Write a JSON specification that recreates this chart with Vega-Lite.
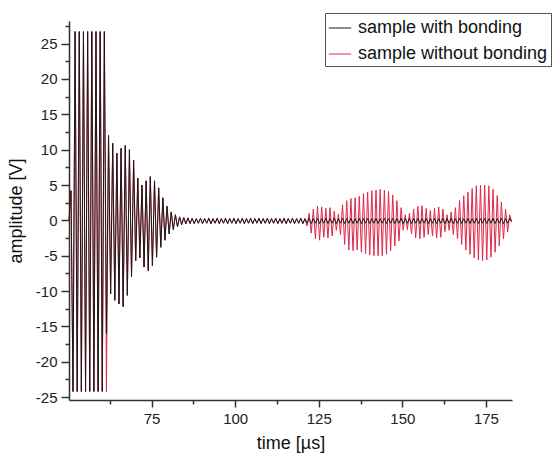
{
  "$schema": "https://vega.github.io/schema/vega-lite/v6.json",
  "width": 443,
  "height": 379,
  "autosize": {"type": "none"},
  "padding": {"left": 69, "top": 21, "right": 44, "bottom": 59},
  "background": "white",
  "config": {"view": {"stroke": null}, "font": "Liberation Sans"},
  "data": {"values": [
    {"t":50.3,"b":0,"r":0},{"t":50.9,"b":4.2,"r":4.2},
    {"t":51.5,"b":-24.2,"r":-24.2},{"t":52.125,"b":26.7,"r":26.7},{"t":52.75,"b":-24.2,"r":-24.2},{"t":53.375,"b":26.7,"r":26.7},
    {"t":54,"b":-24.2,"r":-24.2},{"t":54.625,"b":26.7,"r":26.7},{"t":55.25,"b":-24.2,"r":-24.2},{"t":55.875,"b":26.7,"r":26.7},
    {"t":56.5,"b":-24.2,"r":-24.2},{"t":57.125,"b":26.7,"r":26.7},{"t":57.75,"b":-24.2,"r":-24.2},{"t":58.375,"b":26.7,"r":26.7},
    {"t":59,"b":-24.2,"r":-24.2},{"t":59.625,"b":26.7,"r":26.7},{"t":60.25,"b":-24.2,"r":-24.2},{"t":60.875,"b":26.7,"r":26.7},
    {"t":61.5,"b":-16,"r":-24.2},{"t":62.125,"b":12,"r":12},{"t":62.75,"b":-10.4,"r":-10.4},{"t":63.375,"b":10.9,"r":10.9},
    {"t":64,"b":-11.3,"r":-11.3},{"t":64.625,"b":9.5,"r":9.5},{"t":65.25,"b":-11.8,"r":-11.8},{"t":65.875,"b":10.2,"r":10.2},
    {"t":66.5,"b":-12.2,"r":-12.2},{"t":67.125,"b":10.6,"r":10.6},{"t":67.75,"b":-10.6,"r":-10.6},{"t":68.375,"b":10,"r":10},
    {"t":69,"b":-8,"r":-8},{"t":69.625,"b":8.5,"r":8.5},{"t":70.25,"b":-5.7,"r":-5.7},{"t":70.875,"b":6,"r":6},
    {"t":71.5,"b":-5.3,"r":-5.3},{"t":72.125,"b":5,"r":5},{"t":72.75,"b":-6.6,"r":-6.6},{"t":73.375,"b":5.6,"r":5.6},
    {"t":74,"b":-7.1,"r":-7.1},{"t":74.625,"b":6.2,"r":6.2},{"t":75.25,"b":-6.4,"r":-6.4},{"t":75.875,"b":5.6,"r":5.6},
    {"t":76.5,"b":-5.2,"r":-5.2},{"t":77.125,"b":4.6,"r":4.6},{"t":77.75,"b":-3.8,"r":-3.8},{"t":78.375,"b":3.2,"r":3.2},
    {"t":79,"b":-2.8,"r":-2.8},{"t":79.625,"b":2,"r":2},{"t":80.25,"b":-1.9,"r":-1.9},{"t":80.875,"b":1.2,"r":1.2},
    {"t":81.5,"b":-1.3,"r":-1.3},{"t":82.125,"b":0.8,"r":0.8},{"t":82.75,"b":-0.9,"r":-0.9},{"t":83.375,"b":0.5,"r":0.5},
    {"t":84,"b":-0.6,"r":-0.6},{"t":84.625,"b":0.4,"r":0.4},{"t":85.25,"b":-0.5,"r":-0.5},{"t":85.875,"b":0.35,"r":0.35},
    {"t":86.5,"b":-0.45,"r":-0.45},{"t":87.125,"b":0.3,"r":0.3},{"t":87.75,"b":-0.45,"r":-0.45},{"t":88.375,"b":0.25,"r":0.25},
    {"t":89,"b":-0.4,"r":-0.4},{"t":89.625,"b":0.3,"r":0.3},{"t":90.25,"b":-0.45,"r":-0.45},{"t":90.875,"b":0.25,"r":0.25},
    {"t":91.5,"b":-0.4,"r":-0.4},{"t":92.125,"b":0.3,"r":0.3},{"t":92.75,"b":-0.45,"r":-0.45},{"t":93.375,"b":0.25,"r":0.25},
    {"t":94,"b":-0.4,"r":-0.4},{"t":94.625,"b":0.3,"r":0.3},{"t":95.25,"b":-0.45,"r":-0.45},{"t":95.875,"b":0.25,"r":0.25},
    {"t":96.5,"b":-0.4,"r":-0.4},{"t":97.125,"b":0.3,"r":0.3},{"t":97.75,"b":-0.45,"r":-0.45},{"t":98.375,"b":0.25,"r":0.25},
    {"t":99,"b":-0.4,"r":-0.4},{"t":99.625,"b":0.3,"r":0.3},{"t":100.25,"b":-0.45,"r":-0.45},{"t":100.875,"b":0.25,"r":0.25},
    {"t":101.5,"b":-0.4,"r":-0.4},{"t":102.125,"b":0.3,"r":0.3},{"t":102.75,"b":-0.45,"r":-0.45},{"t":103.375,"b":0.25,"r":0.25},
    {"t":104,"b":-0.4,"r":-0.4},{"t":104.625,"b":0.3,"r":0.3},{"t":105.25,"b":-0.45,"r":-0.45},{"t":105.875,"b":0.25,"r":0.25},
    {"t":106.5,"b":-0.4,"r":-0.4},{"t":107.125,"b":0.3,"r":0.3},{"t":107.75,"b":-0.45,"r":-0.45},{"t":108.375,"b":0.25,"r":0.25},
    {"t":109,"b":-0.4,"r":-0.4},{"t":109.625,"b":0.3,"r":0.3},{"t":110.25,"b":-0.45,"r":-0.45},{"t":110.875,"b":0.25,"r":0.25},
    {"t":111.5,"b":-0.4,"r":-0.4},{"t":112.125,"b":0.3,"r":0.3},{"t":112.75,"b":-0.45,"r":-0.45},{"t":113.375,"b":0.25,"r":0.25},
    {"t":114,"b":-0.4,"r":-0.4},{"t":114.625,"b":0.3,"r":0.3},{"t":115.25,"b":-0.45,"r":-0.45},{"t":115.875,"b":0.25,"r":0.25},
    {"t":116.5,"b":-0.4,"r":-0.4},{"t":117.125,"b":0.3,"r":0.3},{"t":117.75,"b":-0.45,"r":-0.45},{"t":118.375,"b":0.25,"r":0.25},
    {"t":119,"b":-0.4,"r":-0.4},{"t":119.625,"b":0.3,"r":0.3},{"t":120.25,"b":-0.45,"r":-0.45},{"t":120.875,"b":0.25,"r":0.25},
    {"t":121.5,"b":-0.4,"r":-0.8},{"t":122.125,"b":0.3,"r":1.0},{"t":122.75,"b":-0.45,"r":-1.8},{"t":123.375,"b":0.25,"r":1.6},
    {"t":124,"b":-0.4,"r":-2.6},{"t":124.625,"b":0.3,"r":2.0},{"t":125.25,"b":-0.45,"r":-2.8},{"t":125.875,"b":0.25,"r":1.9},
    {"t":126.5,"b":-0.4,"r":-2.4},{"t":127.125,"b":0.3,"r":1.7},{"t":127.75,"b":-0.45,"r":-2.5},{"t":128.375,"b":0.25,"r":1.8},
    {"t":129,"b":-0.4,"r":-2.2},{"t":129.625,"b":0.3,"r":1.3},{"t":130.25,"b":-0.45,"r":-1.4},{"t":130.875,"b":0.25,"r":0.9},
    {"t":131.5,"b":-0.4,"r":-2.0},{"t":132.125,"b":0.3,"r":2.2},{"t":132.75,"b":-0.45,"r":-3.4},{"t":133.375,"b":0.25,"r":2.8},
    {"t":134,"b":-0.4,"r":-4.2},{"t":134.625,"b":0.3,"r":3.1},{"t":135.25,"b":-0.45,"r":-4.3},{"t":135.875,"b":0.25,"r":3.2},
    {"t":136.5,"b":-0.4,"r":-4.2},{"t":137.125,"b":0.3,"r":3.4},{"t":137.75,"b":-0.45,"r":-4.5},{"t":138.375,"b":0.25,"r":3.8},
    {"t":139,"b":-0.4,"r":-4.7},{"t":139.625,"b":0.3,"r":4.0},{"t":140.25,"b":-0.45,"r":-4.9},{"t":140.875,"b":0.25,"r":4.2},
    {"t":141.5,"b":-0.4,"r":-5.0},{"t":142.125,"b":0.3,"r":4.3},{"t":142.75,"b":-0.45,"r":-5.0},{"t":143.375,"b":0.25,"r":4.4},
    {"t":144,"b":-0.4,"r":-5.0},{"t":144.625,"b":0.3,"r":4.3},{"t":145.25,"b":-0.45,"r":-4.8},{"t":145.875,"b":0.25,"r":4.1},
    {"t":146.5,"b":-0.4,"r":-4.3},{"t":147.125,"b":0.3,"r":3.6},{"t":147.75,"b":-0.45,"r":-3.6},{"t":148.375,"b":0.25,"r":2.8},
    {"t":149,"b":-0.4,"r":-2.9},{"t":149.625,"b":0.3,"r":1.8},{"t":150.25,"b":-0.45,"r":-1.4},{"t":150.875,"b":0.25,"r":0.8},
    {"t":151.5,"b":-0.4,"r":-1.3},{"t":152.125,"b":0.3,"r":1.0},{"t":152.75,"b":-0.45,"r":-1.9},{"t":153.375,"b":0.25,"r":1.6},
    {"t":154,"b":-0.4,"r":-2.5},{"t":154.625,"b":0.3,"r":2.0},{"t":155.25,"b":-0.45,"r":-2.6},{"t":155.875,"b":0.25,"r":2.1},
    {"t":156.5,"b":-0.4,"r":-2.4},{"t":157.125,"b":0.3,"r":1.7},{"t":157.75,"b":-0.45,"r":-2.0},{"t":158.375,"b":0.25,"r":1.4},
    {"t":159,"b":-0.4,"r":-2.2},{"t":159.625,"b":0.3,"r":1.7},{"t":160.25,"b":-0.45,"r":-2.5},{"t":160.875,"b":0.25,"r":1.9},
    {"t":161.5,"b":-0.4,"r":-2.4},{"t":162.125,"b":0.3,"r":1.6},{"t":162.75,"b":-0.45,"r":-1.6},{"t":163.375,"b":0.25,"r":0.8},
    {"t":164,"b":-0.4,"r":-1.4},{"t":164.625,"b":0.3,"r":1.2},{"t":165.25,"b":-0.45,"r":-2.0},{"t":165.875,"b":0.25,"r":1.8},
    {"t":166.5,"b":-0.4,"r":-2.6},{"t":167.125,"b":0.3,"r":2.8},{"t":167.75,"b":-0.45,"r":-3.4},{"t":168.375,"b":0.25,"r":3.5},
    {"t":169,"b":-0.4,"r":-4.2},{"t":169.625,"b":0.3,"r":4.0},{"t":170.25,"b":-0.45,"r":-4.8},{"t":170.875,"b":0.25,"r":4.5},
    {"t":171.5,"b":-0.4,"r":-5.3},{"t":172.125,"b":0.3,"r":4.9},{"t":172.75,"b":-0.45,"r":-5.6},{"t":173.375,"b":0.25,"r":5.0},
    {"t":174,"b":-0.4,"r":-5.7},{"t":174.625,"b":0.3,"r":5.0},{"t":175.25,"b":-0.45,"r":-5.6},{"t":175.875,"b":0.25,"r":4.9},
    {"t":176.5,"b":-0.4,"r":-5.2},{"t":177.125,"b":0.3,"r":4.4},{"t":177.75,"b":-0.45,"r":-4.5},{"t":178.375,"b":0.25,"r":3.5},
    {"t":179,"b":-0.4,"r":-3.6},{"t":179.625,"b":0.3,"r":2.6},{"t":180.25,"b":-0.45,"r":-2.6},{"t":180.875,"b":0.25,"r":1.6},
    {"t":181.5,"b":-0.4,"r":-1.6},{"t":182.125,"b":0.3,"r":0.8},{"t":182.7,"b":-0.2,"r":-0.2}
  ]},
  "encoding": {
    "x": {
      "field": "t", "type": "quantitative",
      "scale": {"domain": [50.3, 182.8], "nice": false, "zero": false},
      "axis": {
        "title": "time [µs]",
        "values": [62.5, 75, 87.5, 100, 112.5, 125, 137.5, 150, 162.5, 175],
        "labelExpr": "datum.value % 25 === 0 ? '' + datum.value : ''",
        "labelOverlap": false, "labelFlush": false,
        "tickSize": {"condition": {"test": "datum.value % 25 !== 0", "value": 4}, "value": 7},
        "tickColor": "#333", "tickWidth": 1.5,
        "domainColor": "#333", "domainWidth": 1.5,
        "labelFontSize": 15, "labelColor": "#222", "labelPadding": 4, "labelFont": "Liberation Sans",
        "titleFontSize": 18, "titleFontWeight": "normal", "titleColor": "#111", "titleFont": "Liberation Sans", "titlePadding": 8,
        "grid": false
      }
    }
  },
  "layer": [
    {
      "mark": {"type": "line", "strokeWidth": 1},
      "encoding": {
        "y": {
          "field": "r", "type": "quantitative",
          "scale": {"domain": [-25.4, 28.2], "nice": false, "zero": false},
          "axis": {
            "title": "amplitude [V]",
            "values": [-25, -22.5, -20, -17.5, -15, -12.5, -10, -7.5, -5, -2.5, 0, 2.5, 5, 7.5, 10, 12.5, 15, 17.5, 20, 22.5, 25, 27.5],
            "labelExpr": "datum.value % 5 === 0 ? '' + datum.value : ''",
            "labelOverlap": false, "labelFlush": false,
            "tickSize": {"condition": {"test": "datum.value % 5 !== 0", "value": 4}, "value": 8},
            "tickColor": "#333", "tickWidth": 1.5,
            "domainColor": "#333", "domainWidth": 1.5,
            "labelFontSize": 15, "labelColor": "#222", "labelPadding": 4, "labelFont": "Liberation Sans",
            "titleFontSize": 18, "titleFontWeight": "normal", "titleColor": "#111", "titleFont": "Liberation Sans", "titlePadding": 10,
            "grid": false
          }
        },
        "color": {
          "datum": "sample without bonding", "type": "nominal",
          "scale": {"domain": ["sample with bonding", "sample without bonding"], "range": ["#1a1a1a", "#e0284a"]},
          "legend": {
            "orient": "none", "legendX": 256, "legendY": -8, "title": null,
            "fillColor": "white", "strokeColor": "#555", "padding": 3,
            "labelFontSize": 18, "labelFont": "Liberation Sans", "labelColor": "#111", "labelLimit": 400,
            "symbolType": "stroke", "symbolSize": 500, "symbolStrokeWidth": 1,
            "labelOffset": 6, "rowPadding": 5
          }
        }
      }
    },
    {
      "mark": {"type": "line", "strokeWidth": 1},
      "encoding": {
        "y": {
          "field": "b", "type": "quantitative",
          "scale": {"domain": [-25.4, 28.2], "nice": false, "zero": false},
          "axis": {
            "title": "amplitude [V]",
            "values": [-25, -22.5, -20, -17.5, -15, -12.5, -10, -7.5, -5, -2.5, 0, 2.5, 5, 7.5, 10, 12.5, 15, 17.5, 20, 22.5, 25, 27.5],
            "labelExpr": "datum.value % 5 === 0 ? '' + datum.value : ''",
            "labelOverlap": false, "labelFlush": false,
            "tickSize": {"condition": {"test": "datum.value % 5 !== 0", "value": 4}, "value": 8},
            "tickColor": "#333", "tickWidth": 1.5,
            "domainColor": "#333", "domainWidth": 1.5,
            "labelFontSize": 15, "labelColor": "#222", "labelPadding": 4, "labelFont": "Liberation Sans",
            "titleFontSize": 18, "titleFontWeight": "normal", "titleColor": "#111", "titleFont": "Liberation Sans", "titlePadding": 10,
            "grid": false
          }
        },
        "color": {
          "datum": "sample with bonding", "type": "nominal",
          "scale": {"domain": ["sample with bonding", "sample without bonding"], "range": ["#1a1a1a", "#e0284a"]}
        }
      }
    }
  ]
}
